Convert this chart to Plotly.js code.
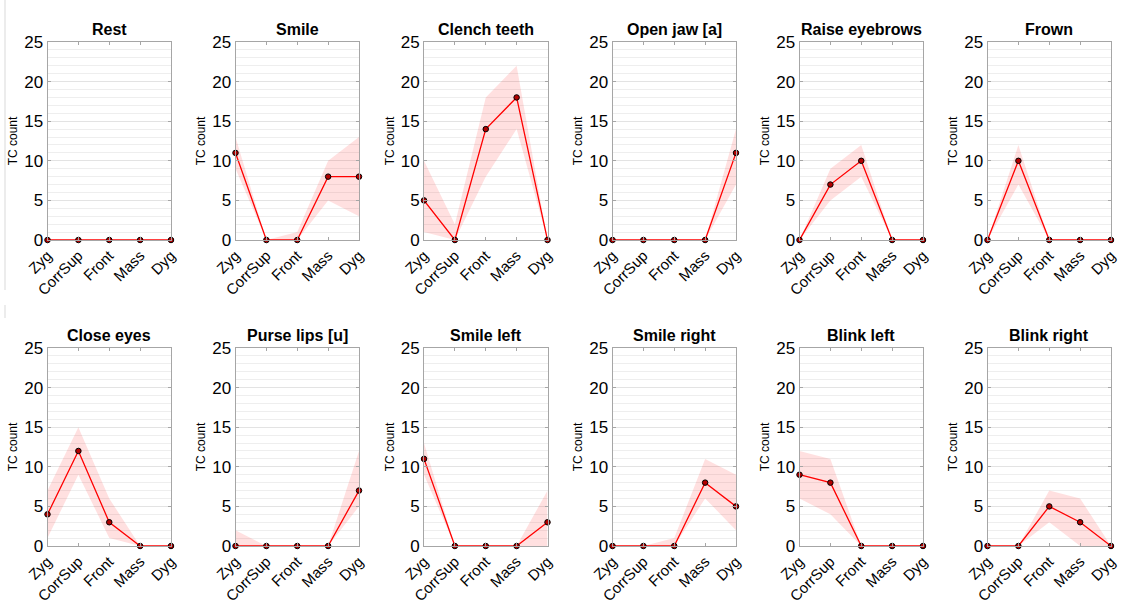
<!DOCTYPE html>
<html>
<head>
<meta charset="utf-8">
<script src="https://cdn.plot.ly/plotly-3.0.1.min.js"></script>
<style>
  html, body { margin: 0; padding: 0; background: #fff; }
  #chart { width: 1126px; height: 604px; }
</style>
</head>
<body>
<div id="chart"></div>
<script>
// Muscle sites along the x axis
const muscles = ['Zyg', 'CorrSup', 'Front', 'Mass', 'Dyg'];

// Facial gestures, one panel each (row-major order)
const gestures = ['Rest', 'Smile', 'Clench teeth', 'Open jaw [a]', 'Raise eyebrows', 'Frown',
                  'Close eyes', 'Purse lips [u]', 'Smile left', 'Smile right', 'Blink left', 'Blink right'];

// TC count per muscle: central value, lower and upper bound of the shaded range
const restCount   = [0, 0, 0, 0, 0];
const restLower   = [0, 0, 0, 0, 0];
const restUpper   = [0, 0, 0, 0, 0];

const smileCount  = [11, 0, 0, 8, 8];
const smileLower  = [9, 0, 0, 5, 3];
const smileUpper  = [13, 0, 1, 10, 13];

const clenchCount = [5, 0, 14, 18, 0];
const clenchLower = [1, 0, 8, 14, 0];
const clenchUpper = [10, 2, 18, 22, 0];

const jawCount    = [0, 0, 0, 0, 11];
const jawLower    = [0, 0, 0, 0, 7];
const jawUpper    = [0, 0, 0, 0, 14];

const browCount   = [0, 7, 10, 0, 0];
const browLower   = [0, 5, 8, 0, 0];
const browUpper   = [0, 9, 12, 0, 0];

const frownCount  = [0, 10, 0, 0, 0];
const frownLower  = [0, 7, 0, 0, 0];
const frownUpper  = [0, 12, 0, 0, 0];

const closeCount  = [4, 12, 3, 0, 0];
const closeLower  = [1, 9, 1, 0, 0];
const closeUpper  = [7, 15, 6, 0, 0];

const purseCount  = [0, 0, 0, 0, 7];
const purseLower  = [0, 0, 0, 0, 5];
const purseUpper  = [2, 0, 0, 0, 12];

const smileLCount = [11, 0, 0, 0, 3];
const smileLLower = [9, 0, 0, 0, 0];
const smileLUpper = [13, 0, 0, 0, 7];

const smileRCount = [0, 0, 0, 8, 5];
const smileRLower = [0, 0, 0, 6, 2];
const smileRUpper = [0, 0, 1, 11, 9];

const blinkLCount = [9, 8, 0, 0, 0];
const blinkLLower = [6, 4, 0, 0, 0];
const blinkLUpper = [12, 11, 0, 0, 0];

const blinkRCount = [0, 0, 5, 3, 0];
const blinkRLower = [0, 0, 3, 0, 0];
const blinkRUpper = [0, 0, 7, 6, 0];

const counts = [restCount, smileCount, clenchCount, jawCount, browCount, frownCount,
                closeCount, purseCount, smileLCount, smileRCount, blinkLCount, blinkRCount];
const lowers = [restLower, smileLower, clenchLower, jawLower, browLower, frownLower,
                closeLower, purseLower, smileLLower, smileRLower, blinkLLower, blinkRLower];
const uppers = [restUpper, smileUpper, clenchUpper, jawUpper, browUpper, frownUpper,
                closeUpper, purseUpper, smileLUpper, smileRUpper, blinkLUpper, blinkRUpper];

// Panel geometry (pixels in a 1126 x 604 figure)
const W = 1126, H = 604;
const colLeft = [47.5, 235.5, 424, 612.5, 799.5, 987.5];
const panelW = 123.5;
const rowTop = [42, 348];
const panelH = 198;

const FONT = 'Liberation Sans, Arial, Helvetica, sans-serif';
const traces = [];
const layout = {
  width: W, height: H,
  margin: {l: 0, r: 0, t: 0, b: 0},
  paper_bgcolor: '#ffffff',
  plot_bgcolor: '#ffffff',
  showlegend: false,
  font: {family: FONT, color: '#000'},
  annotations: [],
  shapes: [
    {type: 'line', xref: 'paper', yref: 'paper', x0: 5 / W, x1: 5 / W,
     y0: 1, y1: 1 - 290 / H, line: {color: '#d9d9d9', width: 1}},
    {type: 'line', xref: 'paper', yref: 'paper', x0: 5 / W, x1: 5 / W,
     y0: 1 - 305 / H, y1: 1 - 318 / H, line: {color: '#d9d9d9', width: 1}}
  ]
};

gestures.forEach((name, i) => {
  const r = Math.floor(i / 6), c = i % 6;
  const n = i + 1;
  const xa = 'x' + (n === 1 ? '' : n);
  const ya = 'y' + (n === 1 ? '' : n);
  const x0 = colLeft[c] / W, x1 = (colLeft[c] + panelW) / W;
  const yTop = 1 - rowTop[r] / H, yBot = 1 - (rowTop[r] + panelH) / H;

  // shaded range: lower edge, then upper edge filled down to it
  traces.push({x: muscles, y: lowers[i], xaxis: xa, yaxis: ya, type: 'scatter',
               mode: 'lines', line: {width: 0, color: 'rgba(0,0,0,0)'}, hoverinfo: 'skip'});
  traces.push({x: muscles, y: uppers[i], xaxis: xa, yaxis: ya, type: 'scatter',
               mode: 'lines', line: {width: 0, color: 'rgba(0,0,0,0)'},
               fill: 'tonexty', fillcolor: 'rgba(255,0,0,0.12)', hoverinfo: 'skip'});
  // central values
  traces.push({x: muscles, y: counts[i], xaxis: xa, yaxis: ya, type: 'scatter',
               mode: 'lines+markers', cliponaxis: false,
               line: {color: '#ff0000', width: 1.3},
               marker: {size: 5.5, color: '#b30000', line: {color: '#000', width: 1}}});

  const axisCommon = {
    showline: true, linecolor: '#a6a6a6', linewidth: 1, mirror: 'ticks',
    ticks: 'inside', ticklen: 3, tickcolor: '#a6a6a6', zeroline: false, fixedrange: true
  };
  layout['xaxis' + (n === 1 ? '' : n)] = Object.assign({}, axisCommon, {
    domain: [x0, x1], anchor: ya, type: 'category', range: [0, 4],
    showgrid: false, tickangle: -45,
    tickfont: {family: FONT, size: 15, color: '#000'}
  });
  layout['yaxis' + (n === 1 ? '' : n)] = Object.assign({}, axisCommon, {
    domain: [yBot, yTop], anchor: xa, range: [0, 25],
    tickvals: [0, 5, 10, 15, 20, 25],
    showgrid: true, gridcolor: '#e3e3e3', gridwidth: 1,
    minor: {dtick: 1, showgrid: true, gridcolor: '#eeeeee', gridwidth: 1, ticks: ''},
    tickfont: {family: FONT, size: 17, color: '#000'},
    title: {text: 'TC count', standoff: 3, font: {family: FONT, size: 12, color: '#000'}}
  });

  layout.annotations.push({
    text: '<b>' + name + '</b>', xref: 'paper', yref: 'paper',
    x: (x0 + x1) / 2, y: yTop, xanchor: 'center', yanchor: 'bottom', yshift: 2,
    showarrow: false, font: {family: FONT, size: 16, color: '#000'}
  });
});

Plotly.newPlot('chart', traces, layout, {staticPlot: true, displayModeBar: false});
</script>
</body>
</html>
